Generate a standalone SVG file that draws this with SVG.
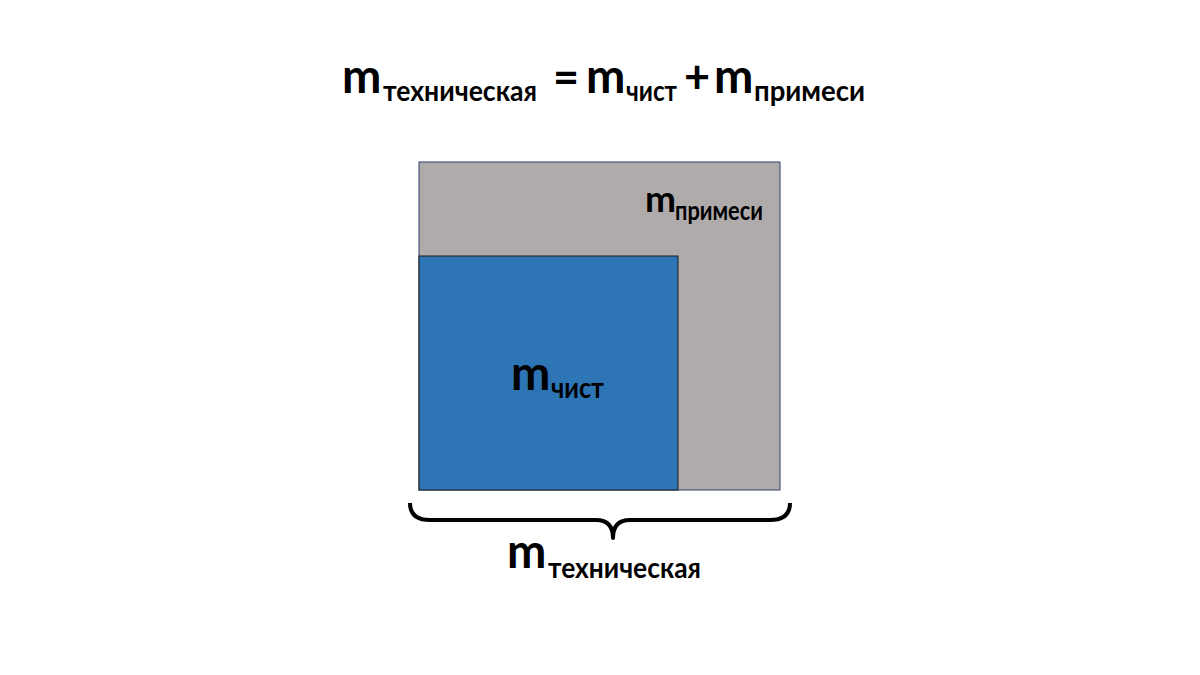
<svg xmlns="http://www.w3.org/2000/svg" width="1200" height="675" viewBox="0 0 1200 675">
<style>
.t{font-family:Lato,"Open Sans","Liberation Sans",sans-serif;font-weight:bold;fill:#000}
.big{font-size:47px}
.op{font-size:45px}
.sub{font-size:29px}
.mid{font-size:37px}
.sub2{font-size:26px}
</style>
<rect width="1200" height="675" fill="#fff"/>
<g id="formula">
<text class="t big" x="342" y="93">m</text>
<text class="t sub" x="383" y="101" textLength="154" lengthAdjust="spacingAndGlyphs">техническая</text>
<text class="t op" x="553" y="93">=</text>
<text class="t big" x="586" y="93">m</text>
<text class="t sub" x="626" y="101" textLength="51" lengthAdjust="spacingAndGlyphs">чист</text>
<text class="t op" x="684" y="93">+</text>
<text class="t big" x="714" y="93">m</text>
<text class="t sub" x="754" y="101" textLength="111" lengthAdjust="spacingAndGlyphs">примеси</text>
</g>
<g id="technical">
<rect x="419" y="162" width="361" height="328" fill="#AFABAB" stroke="#2F3F6F" stroke-width="1"/>
<text class="t mid" x="645" y="212">m</text>
<text class="t sub2" x="675" y="220" textLength="88" lengthAdjust="spacingAndGlyphs">примеси</text>
</g>
<g id="pure">
<rect x="419" y="256" width="259" height="234" fill="#2E75B6" stroke="#1a1a1a" stroke-width="1"/>
<text class="t big" x="511" y="390">m</text>
<text class="t sub" x="551" y="398" textLength="53" lengthAdjust="spacingAndGlyphs">чист</text>
</g>
<g id="connectors">
<path d="M410,503 Q410,520 430,520 L596,520 Q613,520 613,538 Q613,520 630,520 L770,520 Q790,520 790,503" fill="none" stroke="#000" stroke-width="4" stroke-linejoin="round"/>
</g>
<g id="total">
<text class="t big" x="507" y="568">m</text>
<text class="t sub" x="548" y="578" textLength="153" lengthAdjust="spacingAndGlyphs">техническая</text>
</g>
</svg>
